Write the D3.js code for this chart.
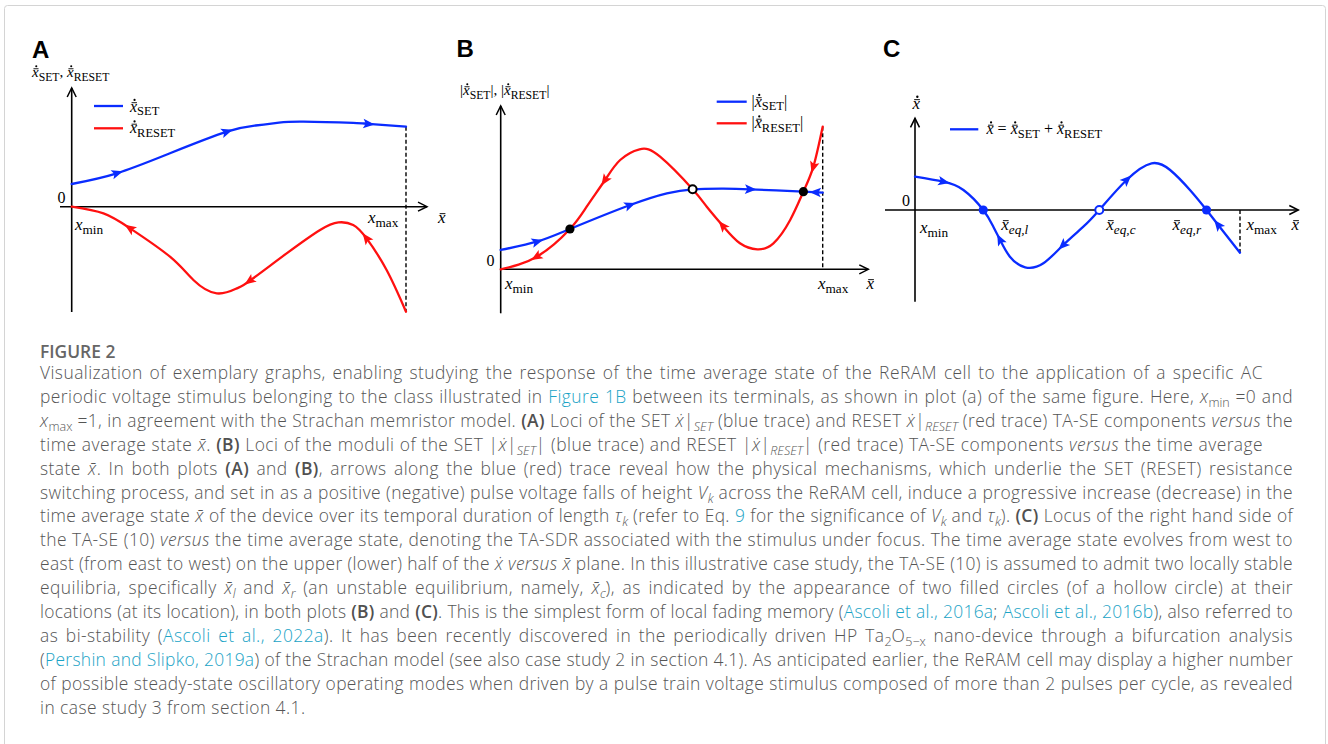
<!DOCTYPE html>
<html>
<head>
<meta charset="utf-8">
<script src="https://cdn.jsdelivr.net/npm/d3@7"></script>
<style>
body { margin: 0; background: #fff; }
#fig { position: relative; width: 1328px; height: 744px; overflow: hidden; }
#chart { position: absolute; left: 0; top: 0; }
.cap { position: absolute; font-family: "Open Sans", Lato, sans-serif; font-weight: 300; color: #555;
       font-size: 17.4px; letter-spacing: 0.45px; line-height: 24px; }
.cap a { color: #1aa3c6; text-decoration: none; }
.cap b { font-weight: 600; color: #505050; }
.cap sub { font-size: 0.72em; vertical-align: -0.28em; line-height: 0; letter-spacing: 0; }
</style>
</head>
<body>
<div id="fig"><svg id="chart" width="1328" height="744"></svg></div>
<script>
// ---- panel A : SET and RESET components vs time average state
var xA_set   = [0, 0.135, 0.294, 0.464, 0.55, 0.62, 0.693, 0.842, 0.887, 1];
var setA     = [0.227, 0.334, 0.534, 0.75, 0.812, 0.84, 0.85, 0.838, 0.828, 0.80];
var xA_reset = [0, 0.095, 0.175, 0.294, 0.364, 0.434, 0.494, 0.533, 0.643, 0.743, 0.798, 0.842, 0.882, 0.942, 1];
var resetA   = [0, -0.067, -0.217, -0.5, -0.733, -0.867, -0.817, -0.74, -0.467, -0.233, -0.157, -0.183, -0.317, -0.633, -1.05];
var arrowsA_set   = [0.135, 0.463, 0.887];
var arrowsA_reset = [0.175, 0.533, 0.882];

// ---- panel B : moduli
var xB_set   = [0, 0.112, 0.215, 0.402, 0.516, 0.596, 0.692, 0.774, 0.94, 1];
var setB     = [0.193, 0.276, 0.403, 0.643, 0.76, 0.80, 0.806, 0.80, 0.776, 0.766];
var xB_reset = [0, 0.112, 0.215, 0.267, 0.324, 0.371, 0.431, 0.495, 0.596, 0.640, 0.692, 0.743, 0.797, 0.847, 0.899, 0.94, 0.971, 1];
var resetB   = [0, 0.126, 0.403, 0.626, 0.893, 1.093, 1.20, 1.126, 0.80, 0.626, 0.426, 0.26, 0.20, 0.26, 0.493, 0.776, 1.026, 1.426];
var arrowsB_set   = [0.112, 0.40, 0.774, 0.979];
var dirB_set      = [1, 1, 1, -1];
var arrowsB_reset = [0.112, 0.324, 0.69, 0.971];
var eqB_x = [0.215, 0.596, 0.94];
var eqB_y = [0.403, 0.80, 0.776];
var eqB_stable = [true, false, true];

// ---- panel C : sum (TA-SDR)
var xC    = [0, 0.087, 0.149, 0.210, 0.241, 0.262, 0.292, 0.339, 0.395, 0.456, 0.518, 0.567, 0.651, 0.728, 0.785, 0.846, 0.897, 0.933, 1];
var rateC = [0.333, 0.283, 0.20, 0, -0.167, -0.30, -0.467, -0.573, -0.533, -0.35, -0.167, 0, 0.30, 0.467, 0.40, 0.20, 0, -0.15, -0.427];
var arrowsC = [0.087, 0.262, 0.456, 0.651, 0.933];
var dirC    = [1, -1, -1, 1, -1];
var eqC_x = [0.210, 0.567, 0.897];
var eqC_stable = [true, false, true];
var eqC_labels = ["eq,l", "eq,c", "eq,r"];

var captionTitle = "FIGURE 2";
var captionLines = [
  "Visualization of exemplary graphs, enabling studying the response of the time average state of the ReRAM cell to the application of a specific AC",
  "periodic voltage stimulus belonging to the class illustrated in <a>Figure 1B</a> between its terminals, as shown in plot (a) of the same figure. Here, <i>x</i><sub>min</sub> =0 and",
  "<i>x</i><sub>max</sub> =1, in agreement with the Strachan memristor model. <b>(A)</b> Loci of the SET <i>x\u0307</i>|<sub><i>SET</i></sub> (blue trace) and RESET <i>x\u0307</i>|<sub><i>RESET</i></sub> (red trace) TA-SE components <i>versus</i> the",
  "time average state <i>x\u0304</i>. <b>(B)</b> Loci of the moduli of the SET |<i>x\u0307</i>|<sub><i>SET</i></sub>| (blue trace) and RESET |<i>x\u0307</i>|<sub><i>RESET</i></sub>| (red trace) TA-SE components <i>versus</i> the time average",
  "state <i>x\u0304</i>. In both plots <b>(A)</b> and <b>(B)</b>, arrows along the blue (red) trace reveal how the physical mechanisms, which underlie the SET (RESET) resistance",
  "switching process, and set in as a positive (negative) pulse voltage falls of height <i>V<sub>k</sub></i> across the ReRAM cell, induce a progressive increase (decrease) in the",
  "time average state <i>x\u0304</i> of the device over its temporal duration of length <i>\u03c4<sub>k</sub></i> (refer to Eq. <a>9</a> for the significance of <i>V<sub>k</sub></i> and <i>\u03c4<sub>k</sub></i>). <b>(C)</b> Locus of the right hand side of",
  "the TA-SE (10) <i>versus</i> the time average state, denoting the TA-SDR associated with the stimulus under focus. The time average state evolves from west to",
  "east (from east to west) on the upper (lower) half of the <i>x\u0307</i> <i>versus</i> <i>x\u0304</i> plane. In this illustrative case study, the TA-SE (10) is assumed to admit two locally stable",
  "equilibria, specifically <i>x\u0304<sub>l</sub></i> and <i>x\u0304<sub>r</sub></i> (an unstable equilibrium, namely, <i>x\u0304<sub>c</sub></i>), as indicated by the appearance of two filled circles (of a hollow circle) at their",
  "locations (at its location), in both plots <b>(B)</b> and <b>(C)</b>. This is the simplest form of local fading memory (<a>Ascoli et al., 2016a</a>; <a>Ascoli et al., 2016b</a>), also referred to",
  "as bi-stability (<a>Ascoli et al., 2022a</a>). It has been recently discovered in the periodically driven HP Ta<sub>2</sub>O<sub>5\u2212x</sub> nano-device through a bifurcation analysis",
  "(<a>Pershin and Slipko, 2019a</a>) of the Strachan model (see also case study 2 in section 4.1). As anticipated earlier, the ReRAM cell may display a higher number",
  "of possible steady-state oscillatory operating modes when driven by a pulse train voltage stimulus composed of more than 2 pulses per cycle, as revealed",
  "in case study 3 from section 4.1."
];
var captionWidths = [1223, 1253, 1253, 1223, 1253, 1253, 1253, 1253, 1253, 1253, 1253, 1253, 1253, 1253, 0];

var BLUE = "#0a2cff", RED = "#ff1010";

var svg = d3.select("#chart");

// outer frame
svg.append("rect")
   .attr("x", 4.5).attr("y", 5.5).attr("width", 1321).attr("height", 760)
   .attr("rx", 3)
   .attr("fill", "none").attr("stroke", "#d4d4d4");

svg.append("defs").append("marker")
   .attr("id", "axArrow")
   .attr("viewBox", "-1 -6 12 12")
   .attr("refX", 9).attr("refY", 0)
   .attr("markerWidth", 12).attr("markerHeight", 12)
   .attr("markerUnits", "userSpaceOnUse")
   .attr("orient", "auto")
   .append("path")
   .attr("d", "M0,-4.5L9,0L0,4.5")
   .attr("fill", "none").attr("stroke", "#000").attr("stroke-width", 1.5);

// layout of each panel (pixels)
var layout = {
   A: {x0: 71.7, x1: 406, zero: 206.7, yTop: 88, yBot: 312, xLeft: 60, xRight: 427},
   B: {x0: 500.7, x1: 822.7, zero: 269.3, yTop: 106, yBot: 313.3, xLeft: 500.7, xRight: 868.3},
   C: {x0: 915, x1: 1240, zero: 210, yTop: 118.3, yBot: 301.7, xLeft: 885, xRight: 1298.3}
};

function makePanel(key) {
   var l = layout[key];
   var p = {};
   p.x = d3.scaleLinear().domain([0, 1]).range([l.x0, l.x1]);
   p.y = d3.scaleLinear().domain([0, 1]).range([l.zero, l.zero - 100]);
   p.g = svg.append("g").attr("class", "panel-" + key);
   p.l = l;
   return p;
}

function drawAxes(p) {
   p.g.append("line")
      .attr("x1", p.l.xLeft).attr("x2", p.l.xRight)
      .attr("y1", p.y(0)).attr("y2", p.y(0))
      .attr("stroke", "#000").attr("stroke-width", 1.6)
      .attr("marker-end", "url(#axArrow)");
   p.g.append("line")
      .attr("x1", p.x(0)).attr("x2", p.x(0))
      .attr("y1", p.l.yBot).attr("y2", p.l.yTop)
      .attr("stroke", "#000").attr("stroke-width", 1.6)
      .attr("marker-end", "url(#axArrow)");
}

function drawCurve(p, xs, ys, color) {
   var pts = xs.map(function(d, i) { return [d, ys[i]]; });
   var line = d3.line()
      .x(function(d) { return p.x(d[0]); })
      .y(function(d) { return p.y(d[1]); })
      .curve(d3.curveNatural);
   return p.g.append("path")
      .datum(pts)
      .attr("d", line)
      .attr("fill", "none")
      .attr("stroke", color)
      .attr("stroke-width", 2.3)
      .attr("stroke-linecap", "round");
}

// arrowheads sitting on a curve, pointing along it
function addArrows(p, path, xs, dirs, color) {
   var node = path.node();
   var L = node.getTotalLength();
   xs.forEach(function(xv, i) {
      var px = p.x(xv);
      var lo = 0, hi = L;
      for (var k = 0; k < 40; k++) {
         var mid = (lo + hi) / 2;
         if (node.getPointAtLength(mid).x < px) lo = mid; else hi = mid;
      }
      var pt = node.getPointAtLength(lo);
      var a = node.getPointAtLength(Math.max(lo - 1.5, 0));
      var b = node.getPointAtLength(Math.min(lo + 1.5, L));
      var ang = Math.atan2(b.y - a.y, b.x - a.x) * 180 / Math.PI;
      var dir = Array.isArray(dirs) ? dirs[i] : dirs;
      if (dir < 0) ang += 180;
      p.g.append("path")
         .attr("d", "M6.5,0L-5,-4.8L-2.5,0L-5,4.8Z")
         .attr("fill", color)
         .attr("transform", "translate(" + pt.x + "," + pt.y + ") rotate(" + ang + ")");
   });
}

// serif math label made of tokens (x with bar / dot, subscripts)
function mathLabel(g, x, y, tokens, size) {
   var cx = x;
   var grp = g.append("g");
   tokens.forEach(function(tk) {
      var isSub = tk.sub !== undefined;
      var fs = isSub ? size * 0.78 : size;
      var t = grp.append("text")
         .attr("x", cx)
         .attr("y", isSub ? y + size * 0.24 : y)
         .style("font-family", "'Liberation Serif', 'DejaVu Serif', serif")
         .style("font-size", fs + "px")
         .style("font-style", tk.it ? "italic" : "normal")
         .style("white-space", "pre")
         .attr("fill", "#000")
         .text(isSub ? tk.sub : tk.s);
      var w = t.node().getComputedTextLength();
      if (tk.bar) {
         grp.append("line")
            .attr("x1", cx + w * 0.22).attr("x2", cx + w * 0.98)
            .attr("y1", y - size * 0.55).attr("y2", y - size * 0.55)
            .attr("stroke", "#000").attr("stroke-width", Math.max(0.9, size * 0.055));
      }
      if (tk.dot) {
         grp.append("circle")
            .attr("cx", cx + w * 0.64).attr("cy", y - size * (tk.bar ? 0.72 : 0.6))
            .attr("r", size * 0.07).attr("fill", "#000");
      }
      cx += w;
   });
   return cx;
}

var X   = {s: "x", it: true};
var XB  = {s: "x", it: true, bar: true};
var XBD = {s: "x", it: true, bar: true, dot: true};

function zeroLabel(p, x, y) {
   p.g.append("text")
      .attr("x", x).attr("y", y)
      .attr("text-anchor", "middle")
      .style("font-family", "'Liberation Serif', serif")
      .style("font-size", "16px")
      .text("0");
}

function panelLetter(x, y, s) {
   svg.append("text")
      .attr("x", x).attr("y", y)
      .style("font-family", "'Liberation Sans', Arial, sans-serif")
      .style("font-weight", "bold")
      .style("font-size", "24px")
      .text(s);
}

function legendLine(p, x1, x2, y, color) {
   p.g.append("line")
      .attr("x1", x1).attr("x2", x2).attr("y1", y).attr("y2", y)
      .attr("stroke", color).attr("stroke-width", 2.3);
}

function dashed(p, x, y1, y2) {
   p.g.append("line")
      .attr("x1", x).attr("x2", x).attr("y1", y1).attr("y2", y2)
      .attr("stroke", "#000").attr("stroke-width", 1.4)
      .attr("stroke-dasharray", "4,2.5");
}

function eqDots(p, xs, ys, stable, color) {
   xs.forEach(function(xv, i) {
      p.g.append("circle")
         .attr("cx", p.x(xv)).attr("cy", p.y(ys[i]))
         .attr("r", stable[i] ? 4.6 : 4)
         .attr("fill", stable[i] ? color : "#fff")
         .attr("stroke", color)
         .attr("stroke-width", stable[i] ? 0 : 2);
   });
}

// ================= A
var pA = makePanel("A");
panelLetter(32, 58, "A");
dashed(pA, pA.x(1), pA.y(setA[setA.length - 1]), pA.l.yBot);
drawAxes(pA);
var setPathA = drawCurve(pA, xA_set, setA, BLUE);
var resetPathA = drawCurve(pA, xA_reset, resetA, RED);
addArrows(pA, setPathA, arrowsA_set, 1, BLUE);
addArrows(pA, resetPathA, arrowsA_reset, -1, RED);
zeroLabel(pA, 61.5, 203);
mathLabel(pA.g, 75, 230, [X, {sub: "min"}], 17);
mathLabel(pA.g, 368, 223, [X, {sub: "max"}], 17);
mathLabel(pA.g, 438, 223, [XB], 17);
mathLabel(pA.g, 32, 77, [XBD, {sub: "SET"}, {s: ", "}, XBD, {sub: "RESET"}], 15);
legendLine(pA, 94, 123, 106, BLUE);
legendLine(pA, 94, 123, 128.3, RED);
mathLabel(pA.g, 130, 111.5, [XBD, {sub: "SET"}], 16);
mathLabel(pA.g, 130, 133, [XBD, {sub: "RESET"}], 16);

// ================= B
var pB = makePanel("B");
panelLetter(456.5, 57, "B");
dashed(pB, pB.x(1), pB.y(resetB[resetB.length - 1]), pB.y(0));
drawAxes(pB);
var resetPathB = drawCurve(pB, xB_reset, resetB, RED);
var setPathB = drawCurve(pB, xB_set, setB, BLUE);
addArrows(pB, setPathB, arrowsB_set, dirB_set, BLUE);
addArrows(pB, resetPathB, arrowsB_reset, -1, RED);
eqDots(pB, eqB_x, eqB_y, eqB_stable, "#000");
zeroLabel(pB, 490.5, 266);
mathLabel(pB.g, 505, 289, [X, {sub: "min"}], 17);
mathLabel(pB.g, 818, 289, [X, {sub: "max"}], 17);
mathLabel(pB.g, 866.5, 289, [XB], 17);
mathLabel(pB.g, 460, 95, [{s: "|"}, XBD, {sub: "SET"}, {s: "|, |"}, XBD, {sub: "RESET"}, {s: "|"}], 15);
legendLine(pB, 716.7, 746.7, 101.7, BLUE);
legendLine(pB, 716.7, 746.7, 123.3, RED);
mathLabel(pB.g, 751.5, 106.5, [{s: "|"}, XBD, {sub: "SET"}, {s: "|"}], 16);
mathLabel(pB.g, 751.5, 128, [{s: "|"}, XBD, {sub: "RESET"}, {s: "|"}], 16);

// ================= C
var pC = makePanel("C");
panelLetter(883, 57, "C");
dashed(pC, pC.x(1), pC.y(0), pC.y(rateC[rateC.length - 1]));
drawAxes(pC);
var pathC = drawCurve(pC, xC, rateC, BLUE);
addArrows(pC, pathC, arrowsC, dirC, BLUE);
eqDots(pC, eqC_x, eqC_x.map(function() { return 0; }), eqC_stable, BLUE);
zeroLabel(pC, 906, 206);
mathLabel(pC.g, 912.5, 109, [XBD], 17);
mathLabel(pC.g, 920, 232.5, [X, {sub: "min"}], 17);
var eqOffsets = [18, 7, -34];
eqC_x.forEach(function(xv, i) {
   mathLabel(pC.g, pC.x(xv) + eqOffsets[i], 230, [XB, {sub: eqC_labels[i], it: true}], 17);
});
mathLabel(pC.g, 1246.5, 230, [X, {sub: "max"}], 17);
mathLabel(pC.g, 1291.5, 230, [XB], 17);
legendLine(pC, 950, 978.3, 129.3, BLUE);
mathLabel(pC.g, 986.5, 134, [XBD, {s: " = "}, XBD, {sub: "SET"}, {s: " + "}, XBD, {sub: "RESET"}], 16);

// ================= caption
var fig = d3.select("#fig");
fig.append("div")
   .attr("class", "cap")
   .style("left", "40px")
   .style("top", "342.5px")
   .style("line-height", "17px")
   .style("font-weight", "600")
   .style("letter-spacing", "0px")
   .style("color", "#666")
   .text(captionTitle);

captionLines.forEach(function(html, i) {
   var w = captionWidths[i];
   var d = fig.append("div")
      .attr("class", "cap")
      .style("left", "40px")
      .style("top", (379 + i * 23.9 - 19) + "px")
      .style("width", w ? w + "px" : "auto")
      .style("white-space", w ? "normal" : "nowrap")
      .style("text-align", w ? "justify" : "left")
      .style("text-align-last", w ? "justify" : "left")
      .html(html);
   // tighten the letters, then the size, if the hand-broken line would wrap
   var ls = 0.45, fs = 17.4;
   while (d.node().offsetHeight > 30 && fs > 12) {
      if (ls > -0.3) { ls -= 0.05; d.style("letter-spacing", ls + "px"); }
      else { fs -= 0.2; d.style("font-size", fs + "px"); }
   }
});
</script>
</body>
</html>
